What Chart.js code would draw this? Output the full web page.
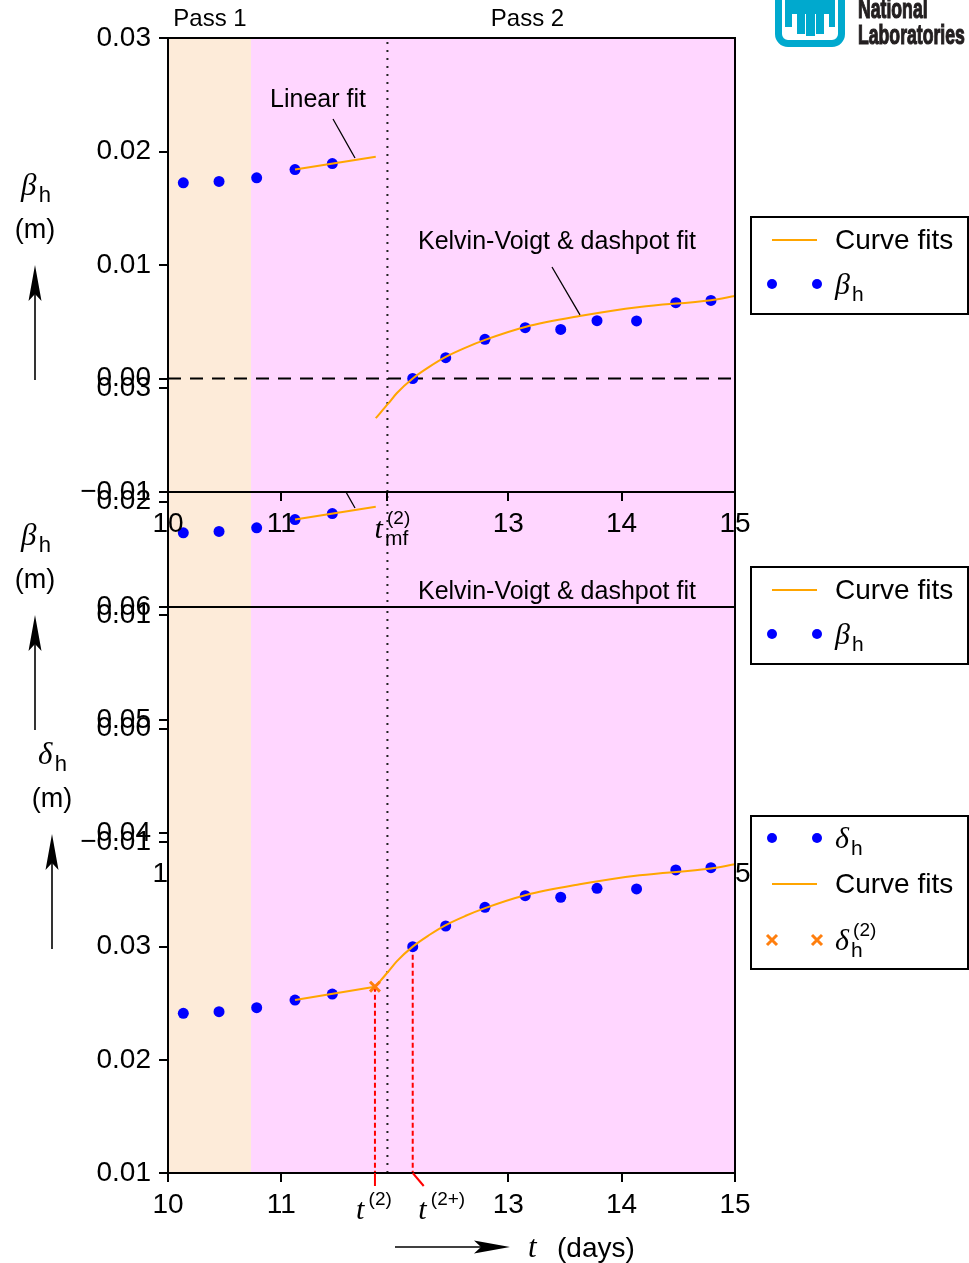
<!DOCTYPE html>
<html><head><meta charset="utf-8">
<script src="https://cdn.jsdelivr.net/npm/chart.js@4/dist/chart.umd.min.js"></script>
<style>
html,body{margin:0;padding:0;background:#fff;}
#wrap{position:relative;width:969px;height:1263px;overflow:hidden;background:#fff;}
canvas{position:absolute;left:0;}
.lg{position:absolute;font-family:'Liberation Sans',Arial,sans-serif;font-weight:bold;font-size:28px;line-height:28px;color:#231f20;transform:scaleX(0.63);transform-origin:0 0;white-space:nowrap;z-index:5;-webkit-text-stroke:1.2px #231f20;}
.cy{position:absolute;background:#00A9CE;z-index:5;}
</style></head><body>
<div id="wrap">
<canvas id="c2" width="969" height="600" style="top:350px;z-index:1"></canvas>
<canvas id="c1" width="969" height="600" style="top:0;z-index:2"></canvas>
<canvas id="c3" width="969" height="1263" style="top:0;z-index:3"></canvas>
<!-- logo -->
<div style="position:absolute;left:775px;top:-25px;width:56px;height:58px;border:7px solid #00A9CE;border-radius:13px;z-index:5"></div>
<div class="cy" style="left:785px;top:0;width:50px;height:14px"></div>
<div class="cy" style="left:785px;top:14px;width:7px;height:13px"></div>
<div class="cy" style="left:797px;top:14px;width:8px;height:20px"></div>
<div class="cy" style="left:806px;top:14px;width:9px;height:22px"></div>
<div class="cy" style="left:816px;top:14px;width:8px;height:20px"></div>
<div class="cy" style="left:829px;top:14px;width:6px;height:13px"></div>
<div class="lg" style="left:858px;top:-5px">National</div>
<div class="lg" style="left:858px;top:21px">Laboratories</div>
</div>
<script>
// ---------------- data ----------------
const days    = [10.135, 10.45, 10.782, 11.12, 11.449, 12.158, 12.449, 12.795, 13.15, 13.463, 13.783, 14.132, 14.478, 14.788];
const betaH   = [0.01724, 0.01736, 0.01768, 0.01841, 0.01894, 0.0000, 0.00183, 0.00345, 0.00448, 0.00432, 0.00509, 0.00507, 0.00668, 0.00688];
const deltaH  = [0.02411, 0.02425, 0.0246, 0.02528, 0.02581, 0.02999, 0.03182, 0.03347, 0.0345, 0.03436, 0.03515, 0.03509, 0.03677, 0.03697];

const betaLinDays  = [11.12, 11.832];
const betaLinFit   = [0.01841, 0.01954];
const deltaLinDays = [11.12, 11.825];
const deltaLinFit  = [0.02528, 0.02646];

const kvDays      = [11.832, 11.943, 12.017, 12.158, 12.30, 12.449, 12.62, 12.795, 13.15, 13.63, 14.16, 14.788, 15.0];
const betaKvFit   = [-0.0035, -0.0022, -0.0013, 0.0000, 0.0010, 0.0019, 0.0027, 0.0034, 0.00454, 0.0055, 0.0063, 0.0069, 0.00727];
const deltaKvFit  = [0.0265, 0.0278, 0.0287, 0.0300, 0.0310, 0.0319, 0.0327, 0.0334, 0.03454, 0.0355, 0.0363, 0.0369, 0.03727];

const passEdge = 10.732;
const tMf = 11.935;
const t2 = 11.825, delta2 = 0.02646;
const t2plus = 12.158, delta2plus = 0.02999;

const xTicksBeta  = [10, 11, tMf, 13, 14, 15];
const xLabelsBeta = ['10', '11', {base:'t', sub:'mf', sup:'(2)'}, '13', '14', '15'];
const xTicksDelta  = [10, 11, t2, t2plus, 13, 14, 15];
const xLabelsDelta = ['10', '11', {base:'t', sup:'(2)'}, {base:'t', sup:'(2+)'}, '13', '14', '15'];

// ---------------- styles ----------------
const FONT = "'Liberation Sans', Arial, Helvetica, sans-serif";
const SERIF = "'Liberation Serif', 'Times New Roman', serif";
const PEACH = '#FDEBD9', PINK = '#FFD6FF';
const ORANGE = '#FFA500', XORANGE = '#FF7F0E', BLUE = '#0000FF', RED = '#FF0000';
const TICK_SIZE = 28, NOTE_SIZE = 25;
Chart.defaults.font.family = FONT;
Chart.defaults.color = '#000';

const pts = (xs, ys) => xs.map((x, i) => ({x, y: ys[i]}));
const fmtY = v => (Math.abs(v) < 1e-9 ? '0.00' : v.toFixed(2)).replace('-', '\u2212');

function drawSym(ctx, x, y, s, size, align) {
  const bf = `italic ${Math.round(size * 1.1)}px ${SERIF}`;
  const sf = `${Math.round(size * 0.78)}px ${FONT}`;
  const pf = `${Math.round(size * 0.72)}px ${FONT}`;
  ctx.save();
  ctx.textBaseline = 'alphabetic'; ctx.textAlign = 'left'; ctx.fillStyle = '#000';
  ctx.font = bf; const wb = ctx.measureText(s.base).width;
  ctx.font = sf; const ws = s.sub ? ctx.measureText(s.sub).width : 0;
  ctx.font = pf; const wp = s.sup ? ctx.measureText(s.sup).width : 0;
  const gap = size * 0.08;
  const total = wb + gap + Math.max(ws, wp);
  const x0 = align === 'center' ? x - total / 2 : x;
  ctx.font = bf; ctx.fillText(s.base, x0, y);
  if (s.sub) { ctx.font = sf; ctx.fillText(s.sub, x0 + wb + gap, y + size * 0.25); }
  if (s.sup) { ctx.font = pf; ctx.fillText(s.sup, x0 + wb + gap + 2, y - size * 0.52); }
  ctx.restore();
}

function arrow(ctx, x1, y1, x2, y2) {
  const L = 36, w = 6.5, notch = 7;
  const ang = Math.atan2(y2 - y1, x2 - x1);
  const ux = Math.cos(ang), uy = Math.sin(ang);
  const bx = x2 - ux * L, by = y2 - uy * L;
  ctx.save(); ctx.strokeStyle = '#000'; ctx.fillStyle = '#000'; ctx.lineWidth = 1.6;
  ctx.beginPath(); ctx.moveTo(x1, y1); ctx.lineTo(bx + ux * notch, by + uy * notch); ctx.stroke();
  ctx.beginPath(); ctx.moveTo(x2, y2);
  ctx.lineTo(bx - uy * w, by + ux * w);
  ctx.lineTo(bx + ux * notch, by + uy * notch);
  ctx.lineTo(bx + uy * w, by - ux * w);
  ctx.closePath(); ctx.fill(); ctx.restore();
}

function drawLegend(ctx, a, L) {
  const left = a.right + 16, w = 217, top = a.top + L.top, h = L.height;
  ctx.save();
  ctx.fillStyle = '#fff'; ctx.fillRect(left, top, w, h);
  ctx.strokeStyle = '#000'; ctx.lineWidth = 2; ctx.strokeRect(left, top, w, h);
  const s1 = a.right + 37, s2 = a.right + 82, tx = a.right + 100;
  L.rows.forEach(r => {
    const y = top + r.dy;
    if (r.kind === 'line') {
      ctx.strokeStyle = ORANGE; ctx.lineWidth = 2;
      ctx.beginPath(); ctx.moveTo(s1, y); ctx.lineTo(s2, y); ctx.stroke();
    } else if (r.kind === 'dot') {
      ctx.fillStyle = BLUE;
      [s1, s2].forEach(sx => { ctx.beginPath(); ctx.arc(sx, y, 5, 0, Math.PI * 2); ctx.fill(); });
    } else if (r.kind === 'cross') {
      ctx.strokeStyle = XORANGE; ctx.lineWidth = 3;
      [s1, s2].forEach(sx => { ctx.beginPath(); ctx.moveTo(sx - 5, y - 5); ctx.lineTo(sx + 5, y + 5);
        ctx.moveTo(sx - 5, y + 5); ctx.lineTo(sx + 5, y - 5); ctx.stroke(); });
    }
    if (typeof r.label === 'string') {
      ctx.fillStyle = '#000'; ctx.font = `28px ${FONT}`; ctx.textBaseline = 'middle'; ctx.textAlign = 'left';
      ctx.fillText(r.label, tx, y + 1);
    } else {
      drawSym(ctx, tx, y + 10, r.label, 27, 'left');
    }
  });
  ctx.restore();
}

function makeChart(id, C) {
  const canvas = document.getElementById(id);
  const W = canvas.width, H = canvas.height;
  const deco = {
    id: 'deco',
    beforeDraw(chart) {
      const {ctx, chartArea: a, scales: {x}} = chart;
      const xe = x.getPixelForValue(passEdge);
      ctx.save();
      ctx.fillStyle = PEACH; ctx.fillRect(a.left, a.top, xe - a.left, a.bottom - a.top);
      ctx.fillStyle = PINK; ctx.fillRect(xe, a.top, a.right - xe, a.bottom - a.top);
      ctx.restore();
    },
    afterDatasetsDraw(chart) {
      const {ctx, chartArea: a} = chart;
      ctx.save(); ctx.strokeStyle = '#000'; ctx.lineWidth = 2;
      ctx.strokeRect(a.left, a.top, a.right - a.left, a.bottom - a.top); ctx.restore();
    },
    afterDraw(chart) {
      const {ctx, chartArea: a, scales: {x, y}} = chart;
      C.xTicks.forEach((v, i) => {
        const lab = C.xLabels[i];
        if (typeof lab === 'object') drawSym(ctx, x.getPixelForValue(v) + (C.labelShift[i] || 0), a.bottom + 46, lab, 27, 'center');
      });
      ctx.save();
      ctx.font = `24px ${FONT}`; ctx.fillStyle = '#000'; ctx.textAlign = 'center'; ctx.textBaseline = 'middle';
      (C.passLabels || []).forEach(p => ctx.fillText(p.text, x.getPixelForValue(p.x), a.top - 19));
      (C.notes || []).forEach(n => {
        ctx.font = `${NOTE_SIZE}px ${FONT}`; ctx.fillText(n.text, x.getPixelForValue(n.x), y.getPixelForValue(n.y));
        ctx.strokeStyle = '#000'; ctx.lineWidth = 1.3; ctx.beginPath();
        ctx.moveTo(x.getPixelForValue(n.from[0]), y.getPixelForValue(n.from[1]));
        ctx.lineTo(x.getPixelForValue(n.to[0]), y.getPixelForValue(n.to[1])); ctx.stroke();
      });
      const yl = C.yLabel;
      drawSym(ctx, yl.x - 14, a.top + 157, yl.sym, 28, 'left');
      ctx.font = `27px ${FONT}`; ctx.fillStyle = '#000'; ctx.textAlign = 'center'; ctx.textBaseline = 'middle';
      ctx.fillText('(m)', yl.x, a.top + 193);
      ctx.restore();
      arrow(ctx, yl.x, a.top + 342, yl.x, a.top + 227);
      drawLegend(ctx, a, C.legend);
      if (C.extra) C.extra(chart);
    }
  };
  return new Chart(canvas, {
    type: 'scatter',
    data: {datasets: C.datasets},
    options: {
      responsive: false, animation: false, events: [],
      layout: {padding: {left: 0, top: C.top, right: W - C.right, bottom: H - C.bottom - C.xAxisH}},
      plugins: {legend: {display: false}, tooltip: {enabled: false}},
      scales: {
        x: {
          type: 'linear', min: 10, max: 15,
          afterFit: s => { s.height = C.xAxisH; },
          afterBuildTicks: s => { s.ticks = C.xTicks.map(v => ({value: v})); },
          ticks: {autoSkip: false, maxRotation: 0, padding: 6, font: {size: TICK_SIZE}, color: '#000',
            callback: (v, i) => typeof C.xLabels[i] === 'string' ? C.xLabels[i] : ''},
          grid: {drawOnChartArea: false, drawTicks: true, tickLength: 9, lineWidth: 2,
            color: c => (C.hiddenTicks || []).includes(c.index) ? 'rgba(0,0,0,0)' : '#000'},
          border: {display: true, color: '#000', width: 2}
        },
        y: {
          type: 'linear', min: C.yMin, max: C.yMax,
          afterFit: s => { s.width = C.left; },
          ticks: {stepSize: 0.01, padding: 8, font: {size: TICK_SIZE}, color: '#000', callback: v => fmtY(v)},
          grid: {drawOnChartArea: false, drawTicks: true, tickLength: 9, lineWidth: 2, color: '#000'},
          border: {display: true, color: '#000', width: 2}
        }
      }
    },
    plugins: [deco]
  });
}

const scatterPts = (data, order) => ({data, showLine: false, pointRadius: 5.5, pointBorderWidth: 0,
  pointBackgroundColor: BLUE, borderColor: BLUE, order});
const fitLine = (data) => ({data, showLine: true, pointRadius: 0, borderColor: ORANGE, borderWidth: 2,
  cubicInterpolationMode: 'monotone', order: 1});
const refLine = (data, color, dash) => ({data, showLine: true, pointRadius: 0, borderColor: color,
  borderWidth: 2, borderDash: dash, order: 3});

function betaConfig() {
  return {
    top: 38, bottom: 492, left: 168, right: 735, xAxisH: 60, yMin: -0.01, yMax: 0.03,
    xTicks: xTicksBeta, xLabels: xLabelsBeta, labelShift: {2: 4},
    datasets: [
      refLine([{x: 10, y: 0}, {x: 15, y: 0}], '#000', [13, 9]),
      refLine([{x: tMf, y: -0.01}, {x: tMf, y: 0.03}], '#222', [2, 6]),
      scatterPts(pts(days, betaH), 2),
      fitLine(pts(betaLinDays, betaLinFit)),
      fitLine(pts(kvDays, betaKvFit))
    ],
    passLabels: [{text: 'Pass 1', x: 10.37}, {text: 'Pass 2', x: 13.17}],
    notes: [
      {text: 'Linear fit', x: 11.323, y: 0.02454, from: [11.455, 0.02286], to: [11.649, 0.01943]},
      {text: 'Kelvin-Voigt & dashpot fit', x: 13.43, y: 0.01203, from: [13.386, 0.00982], to: [13.633, 0.0056]}
    ],
    yLabel: {x: 35, sym: {base: '\u03b2', sub: 'h'}},
    legend: {top: 179, height: 97, rows: [
      {kind: 'line', dy: 23, label: 'Curve fits'},
      {kind: 'dot', dy: 67, label: {base: '\u03b2', sub: 'h'}}
    ]}
  };
}

makeChart('c2', betaConfig());
makeChart('c1', betaConfig());

makeChart('c3', {
  top: 607, bottom: 1173, left: 168, right: 735, xAxisH: 90, yMin: 0.01, yMax: 0.06,
  xTicks: xTicksDelta, xLabels: xLabelsDelta, labelShift: {2: -2, 3: 28}, hiddenTicks: [2, 3],
  datasets: [
    refLine([{x: tMf, y: 0.01}, {x: tMf, y: 0.06}], '#222', [2, 6]),
    refLine([{x: t2, y: delta2}, {x: t2, y: 0.01}], RED, [5, 3]),
    refLine([{x: t2plus, y: delta2plus}, {x: t2plus, y: 0.01}], RED, [5, 3]),
    scatterPts(pts(days, deltaH), 2),
    fitLine(pts(deltaLinDays, deltaLinFit)),
    fitLine(pts(kvDays, deltaKvFit)),
    {data: [{x: t2, y: delta2}], showLine: false, pointStyle: 'crossRot', pointRadius: 7,
      pointBorderWidth: 3, pointBorderColor: XORANGE, borderColor: XORANGE, order: 0}
  ],
  yLabel: {x: 52, sym: {base: '\u03b4', sub: 'h'}},
  legend: {top: 209, height: 153, rows: [
    {kind: 'dot', dy: 22, label: {base: '\u03b4', sub: 'h'}},
    {kind: 'line', dy: 68, label: 'Curve fits'},
    {kind: 'cross', dy: 124, label: {base: '\u03b4', sub: 'h', sup: '(2)'}}
  ]},
  extra(chart) {
    const {ctx, chartArea: a, scales: {x}} = chart;
    const p2 = x.getPixelForValue(t2), p2p = x.getPixelForValue(t2plus);
    ctx.save(); ctx.strokeStyle = RED; ctx.lineWidth = 2;
    ctx.beginPath(); ctx.moveTo(p2, a.bottom); ctx.lineTo(p2, a.bottom + 13); ctx.stroke();
    ctx.beginPath(); ctx.moveTo(p2p, a.bottom); ctx.lineTo(p2p + 11, a.bottom + 13); ctx.stroke();
    ctx.restore();
    arrow(ctx, 395, a.bottom + 74, 510, a.bottom + 74);
    drawSym(ctx, 528, a.bottom + 84, {base: 't'}, 28, 'left');
    ctx.save(); ctx.font = `28px ${FONT}`; ctx.fillStyle = '#000'; ctx.textBaseline = 'alphabetic'; ctx.textAlign = 'left';
    ctx.fillText('(days)', 557, a.bottom + 84); ctx.restore();
  }
});
</script>
</body></html>
